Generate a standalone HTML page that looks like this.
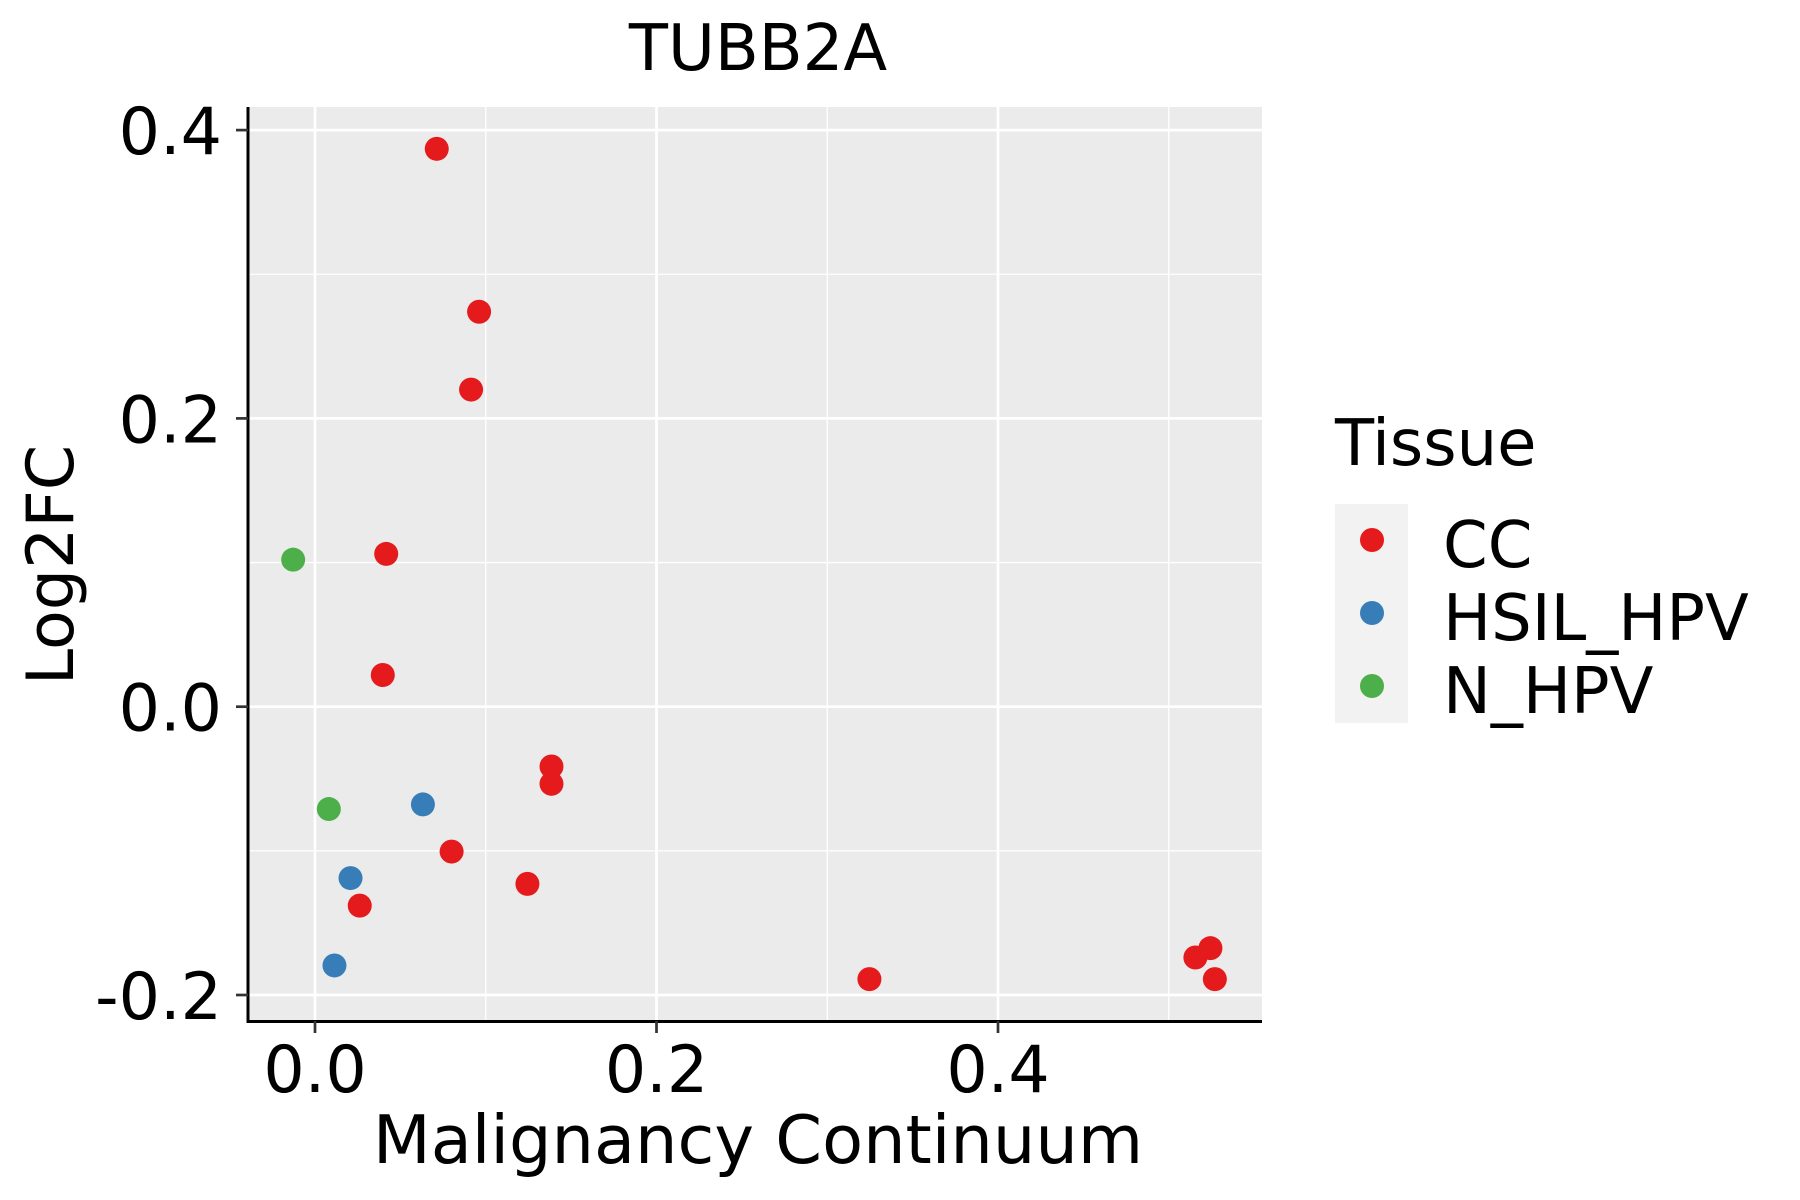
<!DOCTYPE html>
<html><head><meta charset="utf-8"><style>body{margin:0;background:#fff}svg{display:block}text{font-family:"DejaVu Sans","Liberation Sans",sans-serif;fill:#000}</style></head>
<body>
<svg id="chart" width="1800" height="1200" viewBox="0 0 1800 1200" xmlns="http://www.w3.org/2000/svg">
<text x="758" y="70" font-size="64" text-anchor="middle">TUBB2A</text>
<rect x="248" y="107" width="1014" height="914" fill="#ebebeb"/>
<g id="grid"></g>
<g id="points"></g>
<line x1="248" y1="107" x2="248" y2="1023" stroke="#000" stroke-width="3"/>
<line x1="246.5" y1="1021.5" x2="1262" y2="1021.5" stroke="#000" stroke-width="3"/>
<g id="ticks"></g>
<text x="758" y="1163" font-size="67" text-anchor="middle">Malignancy Continuum</text>
<text transform="translate(73,565) rotate(-90)" font-size="65" text-anchor="middle">Log2FC</text>
<g>
<text x="1335" y="465" font-size="64">Tissue</text>
<rect x="1335" y="504" width="73" height="219" fill="#f2f2f2"/>
<circle cx="1372" cy="540" r="12" fill="#E41A1C"/>
<circle cx="1372" cy="613" r="12" fill="#377EB8"/>
<circle cx="1372" cy="686" r="12" fill="#4DAF4A"/>
<text x="1443" y="567" font-size="64">CC</text>
<text x="1443" y="640" font-size="64">HSIL_HPV</text>
<text x="1443" y="713" font-size="64">N_HPV</text>
</g>
</svg>
<script>
const ccX=[0.0713,0.0961,0.0914,0.0417,0.0397,0.1385,0.1385,0.080,0.1244,0.0262,0.3247,0.5156,0.5244,0.527];
const ccY=[0.387,0.274,0.220,0.106,0.022,-0.0415,-0.0535,-0.1005,-0.1229,-0.138,-0.189,-0.174,-0.1675,-0.189];
const hsilX=[0.0632,0.0208,0.0114];
const hsilY=[-0.0678,-0.1189,-0.1795];
const nX=[-0.0128,0.0081];
const nY=[0.102,-0.071];
const xTicks=[0.0,0.2,0.4];
const xTickLabels=["0.0","0.2","0.4"];
const xMinor=[0.1,0.3,0.5];
const yTicks=[-0.2,0.0,0.2,0.4];
const yTickLabels=["-0.2","0.0","0.2","0.4"];
const yMinor=[-0.1,0.1,0.3];
const NS="http://www.w3.org/2000/svg";
function sx(v){return 315+v*1707.5;}
function sy(v){return 706.7-v*1441.5;}
function mk(tag,attrs,parent){const e=document.createElementNS(NS,tag);for(const k in attrs)e.setAttribute(k,attrs[k]);parent.appendChild(e);return e;}
const grid=document.getElementById('grid'),ticks=document.getElementById('ticks'),pts=document.getElementById('points');
xMinor.forEach(v=>{const l=mk('line',{x1:sx(v),x2:sx(v),y1:107,y2:1021,stroke:'#fff','stroke-width':1.3},grid);

});
yMinor.forEach(v=>{const l=mk('line',{x1:248,x2:1262,y1:sy(v),y2:sy(v),stroke:'#fff','stroke-width':1.3},grid);

});
xTicks.forEach((v,i)=>{const l=mk('line',{x1:sx(v),x2:sx(v),y1:107,y2:1021,stroke:'#fff','stroke-width':2.7},grid);


const t=mk('line',{x1:sx(v),x2:sx(v),y1:1021,y2:1033,stroke:'#333','stroke-width':2.7},ticks);


const tx=mk('text',{x:sx(v),y:1092,'font-size':65,'text-anchor':'middle'},ticks);tx.textContent=xTickLabels[i];

});
yTicks.forEach((v,i)=>{const l=mk('line',{x1:248,x2:1262,y1:sy(v),y2:sy(v),stroke:'#fff','stroke-width':2.7},grid);


const t=mk('line',{x1:236,x2:248,y1:sy(v),y2:sy(v),stroke:'#333','stroke-width':2.7},ticks);


const tx=mk('text',{x:222,y:sy(v)+24,'font-size':65,'text-anchor':'end'},ticks);tx.textContent=yTickLabels[i];

});
function series(xs,ys,col,name){xs.forEach((x,i)=>{const c=mk('circle',{cx:sx(x),cy:sy(ys[i]),r:12,fill:col},pts);

});}
series(ccX,ccY,'#E41A1C','point-cc');
series(hsilX,hsilY,'#377EB8','point-hsil-hpv');
series(nX,nY,'#4DAF4A','point-n-hpv');
</script>
</body></html>
